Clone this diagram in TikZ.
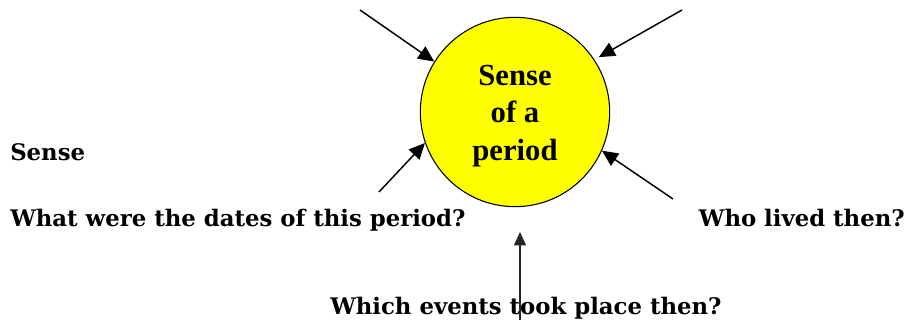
\documentclass[tikz,border=0pt]{standalone}
\usepackage{fontspec}
\setmainfont{DejaVu Serif}
\newfontfamily\timesfont{Liberation Serif}
\usepackage{tikz}
\usetikzlibrary{arrows.meta,positioning}
\definecolor{sunyellow}{HTML}{FFFF00}
\tikzset{
  hubnode/.style={circle,draw=black,thick,fill=sunyellow,minimum size=142pt,inner sep=0pt,
    align=center,font=\timesfont\bfseries\fontsize{23}{28}\selectfont},
  qtext/.style={inner sep=0pt,font=\bfseries\fontsize{17.1}{20}\selectfont},
  inarrow/.style={-{Triangle[length=12pt,width=11pt]},line width=1.1pt,black},
  uparrow/.style={-{Triangle[length=10pt,width=9pt]},line width=0.8pt,black!85},
}

\begin{document}
\begin{tikzpicture}[x=0.75pt,y=-0.75pt]
  \useasboundingbox (0,0) rectangle (908,320);
  \node[hubnode] (nHub) at (515,112) {};
  \node[align=center,font=\timesfont\bfseries\fontsize{23}{28}\selectfont,inner sep=0pt]
    (nHubText) at (515,116) {Sense\\of a\\period};
  \node[qtext,anchor=west] (nSense) at (10,152) {Sense};
  \node[qtext,anchor=base west] (nDates) at (10,227) {What were the dates of this period?};
  \node[qtext,anchor=base east] (nWho) at (905,227) {Who lived then?};
  \node[qtext,anchor=base west] (nEvents) at (330,315) {Which events took place then?};
  \coordinate (sTL) at (360,10);
  \coordinate (sTR) at (682,10);
  \coordinate (sBL) at (379,192);
  \coordinate (sBR) at (673,199);
  \coordinate (sB) at (520,320);
  \coordinate (tB) at (520,232);
  \draw[inarrow] (sTL) -- (nHub.148);
  \draw[inarrow] (sTR) -- ([shift={(4,-3)}]nHub.33);
  \draw[inarrow] (sBL) -- (nHub.199);
  \draw[inarrow] (sBR) -- (nHub.-24);
  \draw[uparrow] (sB) -- (tB);
\end{tikzpicture}
\end{document}
